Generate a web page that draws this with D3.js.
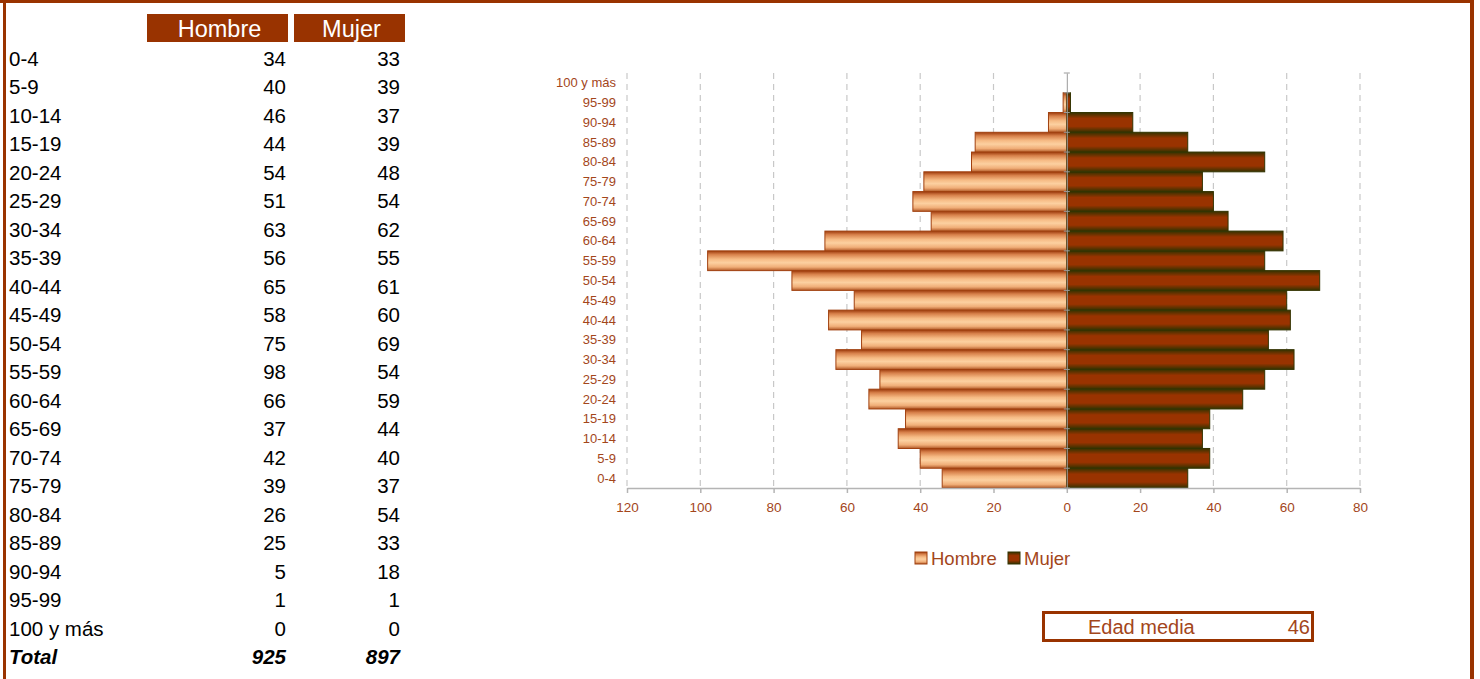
<!DOCTYPE html>
<html><head><meta charset="utf-8">
<script src="https://cdn.jsdelivr.net/npm/d3@7"></script>
<style>body{margin:0;background:#fff}svg{display:block;font-family:"Liberation Sans",Arial,sans-serif}</style>
</head><body>
<script>
const categories = ["0-4","5-9","10-14","15-19","20-24","25-29","30-34","35-39","40-44","45-49","50-54","55-59","60-64","65-69","70-74","75-79","80-84","85-89","90-94","95-99","100 y más"];
const hombre = [34,40,46,44,54,51,63,56,65,58,75,98,66,37,42,39,26,25,5,1,0];
const mujer  = [33,39,37,39,48,54,62,55,61,60,69,54,59,44,40,37,54,33,18,1,0];
const seriesNames = ["Hombre","Mujer"];
const xTicks = [-120,-100,-80,-60,-40,-20,0,20,40,60,80];
const totalLabel = "Total";
const edadLabel = "Edad media";
const edadMedia = 46;

(function(){
const W = 1480, H = 679;
const brown = "#993300", txt = "#a3461b";
const svg = d3.select("body").append("svg").attr("width", W).attr("height", H);

const defs = svg.append("defs");
const gH = defs.append("linearGradient").attr("id","gH").attr("x1",0).attr("y1",0).attr("x2",0).attr("y2",1);
[[0,"#9c3a0c"],[0.18,"#d7804a"],[0.42,"#f6bb85"],[0.6,"#fcd0a0"],[0.82,"#f0ae78"],[1,"#b25a28"]]
  .forEach(([o,c])=>gH.append("stop").attr("offset",o).attr("stop-color",c));
const gM = defs.append("linearGradient").attr("id","gM").attr("x1",0).attr("y1",0).attr("x2",0).attr("y2",1);
[[0,"#333300"],[0.3,"#993300"],[0.7,"#993300"],[1,"#333300"]]
  .forEach(([o,c])=>gM.append("stop").attr("offset",o).attr("stop-color",c));

// frame
svg.append("rect").attr("x",0).attr("y",0).attr("width",1474).attr("height",3).attr("fill",brown);
svg.append("rect").attr("x",3).attr("y",0).attr("width",3).attr("height",H).attr("fill",brown);
svg.append("rect").attr("x",1470).attr("y",0).attr("width",4).attr("height",H).attr("fill",brown);

// table
const rowY = d3.scaleLinear().domain([0,20]).range([58,628]);
const colRight = [286, 400];
const headers = [[147,288],[294,405]];
headers.forEach((h,i)=>{
  svg.append("rect").attr("x",h[0]).attr("y",14).attr("width",h[1]-h[0]).attr("height",28).attr("fill",brown);
  svg.append("text").attr("x",(h[0]+h[1])/2+2).attr("y",29).attr("text-anchor","middle").attr("dominant-baseline","central")
    .attr("fill","#fff").attr("font-size",23.5).text(seriesNames[i]);
});
const tbl = svg.append("g").attr("font-size",20.5).attr("fill","#000");
categories.forEach((c,i)=>{
  const yy = rowY(i);
  tbl.append("text").attr("x",9).attr("y",yy).attr("dominant-baseline","central").text(c);
  tbl.append("text").attr("x",colRight[0]).attr("y",yy).attr("text-anchor","end").attr("dominant-baseline","central").text(hombre[i]);
  tbl.append("text").attr("x",colRight[1]).attr("y",yy).attr("text-anchor","end").attr("dominant-baseline","central").text(mujer[i]);
});
const yT = rowY(21);
tbl.append("text").attr("x",9).attr("y",yT).attr("dominant-baseline","central").attr("font-weight","bold").attr("font-style","italic").text(totalLabel);
tbl.append("text").attr("x",colRight[0]).attr("y",yT).attr("text-anchor","end").attr("dominant-baseline","central").attr("font-weight","bold").attr("font-style","italic").text(d3.sum(hombre));
tbl.append("text").attr("x",colRight[1]).attr("y",yT).attr("text-anchor","end").attr("dominant-baseline","central").attr("font-weight","bold").attr("font-style","italic").text(d3.sum(mujer));

// chart
const x = d3.scaleLinear().domain([-120,80]).range([627,1360]);
const y = d3.scaleBand().domain(categories).range([488,73]).padding(0);
const pTop = 73, pBottom = 488;

// gridlines
svg.append("g").selectAll("line").data(xTicks.filter(t=>t!==0)).join("line")
  .attr("x1",d=>x(d)).attr("x2",d=>x(d)).attr("y1",pTop).attr("y2",pBottom)
  .attr("stroke","#c8c8c8").attr("stroke-width",1.2).attr("stroke-dasharray","6,5");

// bars
svg.append("g").selectAll("rect").data(categories).join("rect")
  .attr("x",(d,i)=>x(-hombre[i])).attr("y",d=>y(d)).attr("width",(d,i)=>x(0)-x(-hombre[i])).attr("height",y.bandwidth())
  .attr("fill","url(#gH)").attr("stroke","#a0400f").attr("stroke-width",(d,i)=>hombre[i]>0?1:0);
svg.append("g").selectAll("rect").data(categories).join("rect")
  .attr("x",x(0)).attr("y",d=>y(d)).attr("width",(d,i)=>x(mujer[i])-x(0)).attr("height",y.bandwidth())
  .attr("fill","url(#gM)").attr("stroke","#333300").attr("stroke-width",(d,i)=>mujer[i]>0?1:0);

// x axis
const xa = svg.append("g").attr("transform",`translate(0,${pBottom})`)
  .call(d3.axisBottom(x).tickValues(xTicks).tickSize(5).tickSizeOuter(0).tickFormat(d=>Math.abs(d)));
xa.select(".domain").attr("stroke","#b4b4b4").attr("stroke-width",1.5);
xa.selectAll(".tick line").attr("stroke","#b4b4b4").attr("stroke-width",1.5);
xa.selectAll("text").attr("fill",txt).attr("font-size",13.5).attr("font-family","Liberation Sans, Arial, sans-serif").attr("dy","1.15em");

// y axis at 0
const ya = svg.append("g").attr("transform",`translate(${x(0)},0)`)
  .call(d3.axisRight(y).tickSize(0).tickFormat(""));
ya.select(".domain").attr("stroke","#9a9a9a").attr("stroke-width",1);
svg.append("g").selectAll("line").data(d3.range(22)).join("line")
  .attr("x1",x(0)-3).attr("x2",x(0)+3).attr("y1",i=>pTop+i*y.step()).attr("y2",i=>pTop+i*y.step())
  .attr("stroke","#9a9a9a");

// y labels
svg.append("g").selectAll("text").data(categories).join("text")
  .attr("x",616).attr("y",d=>y(d)+y.bandwidth()/2).attr("text-anchor","end").attr("dominant-baseline","central")
  .attr("fill",txt).attr("font-size",13).text(d=>d);

// legend
const leg = svg.append("g");
const lx = [915, 1008];
seriesNames.forEach((n,i)=>{
  leg.append("rect").attr("x",lx[i]).attr("y",552).attr("width",12).attr("height",12)
    .attr("fill",i===0?"url(#gH)":"url(#gM)").attr("stroke",i===0?"#a0400f":"#333300");
  leg.append("text").attr("x",lx[i]+16).attr("y",558).attr("dominant-baseline","central")
    .attr("fill",txt).attr("font-size",18.5).text(n);
});

// edad media box
svg.append("rect").attr("x",1043.5).attr("y",612.5).attr("width",269).attr("height",28).attr("fill","none").attr("stroke",brown).attr("stroke-width",3);
svg.append("text").attr("x",1088).attr("y",627).attr("dominant-baseline","central").attr("fill",txt).attr("font-size",20).text(edadLabel);
svg.append("text").attr("x",1310).attr("y",627).attr("text-anchor","end").attr("dominant-baseline","central").attr("fill",txt).attr("font-size",20).text(edadMedia);
})();
</script>
</body></html>
